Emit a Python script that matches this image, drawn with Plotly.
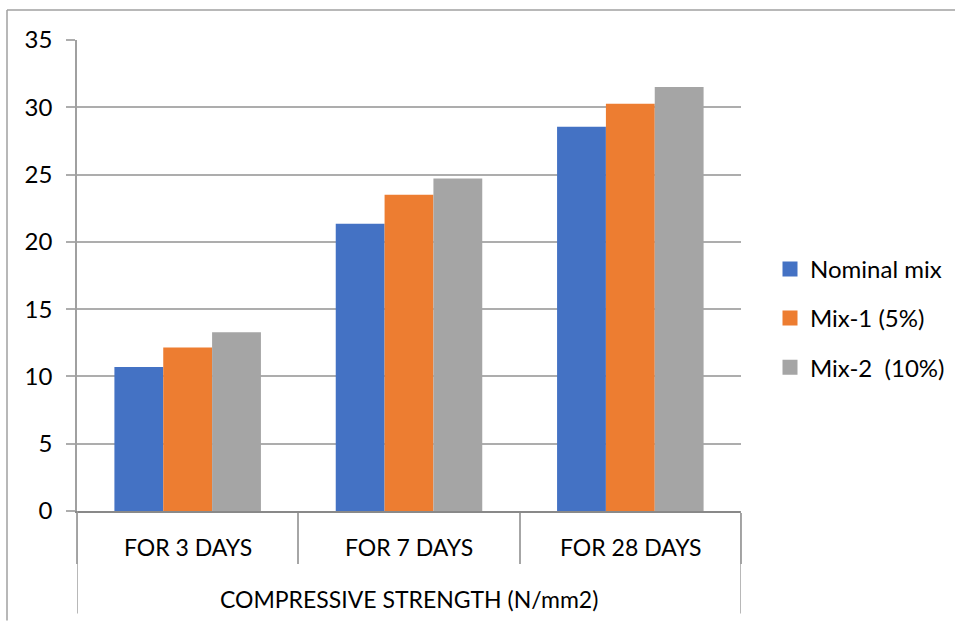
import plotly.graph_objects as go

categories = ["FOR 3 DAYS", "FOR 7 DAYS", "FOR 28 DAYS"]
group_title = "COMPRESSIVE STRENGTH (N/mm2)"
series_names = ["Nominal mix", "Mix-1 (5%)", "Mix-2  (10%)"]
nominal_mix = [10.7, 21.35, 28.55]
mix1_5pct = [12.15, 23.5, 30.27]
mix2_10pct = [13.28, 24.7, 31.5]
series_values = [nominal_mix, mix1_5pct, mix2_10pct]
colors = ["#4472C4", "#ED7D31", "#A5A5A5"]
y_ticks = [0, 5, 10, 15, 20, 25, 30, 35]

FONT = "Lato"
W, H = 955, 621
L, R, T, B = 77, 741, 40, 511.5
pw, ph = R - L, B - T

def px_x(p):
    return (p - L) / pw

def px_y(p):
    return (B - p) / ph

fig = go.Figure()
for name, vals, col in zip(series_names, series_values, colors):
    fig.add_trace(go.Bar(x=categories, y=vals, name=name, marker_color=col,
                         marker_line_width=0, showlegend=False))
for i, (name, col) in enumerate(zip(series_names, colors)):
    fig.add_trace(go.Scatter(x=[categories[0]], y=[None], mode="markers", name=name,
                             marker=dict(symbol="square", size=15, color=col),
                             legendgroup=f"g{i}", showlegend=True))

grid = "#ADADAD"
fig.update_layout(
    width=W, height=H,
    margin=dict(l=L, r=W - R, t=T, b=H - B, pad=0, autoexpand=False),
    paper_bgcolor="white", plot_bgcolor="white",
    barmode="group", bargap=0.338, bargroupgap=0,
    font=dict(family=FONT, size=24, color="#000000"),
    legend=dict(x=px_x(770), y=px_y(247), xanchor="left", yanchor="top",
                font=dict(family=FONT, size=24, color="#000000"),
                tracegroupgap=15, itemsizing="trace", bgcolor="rgba(0,0,0,0)"),
    xaxis=dict(type="category", range=[-0.5, 2.5], showticklabels=False,
               tickson="boundaries", ticks="outside", ticklen=51, tickwidth=1.5,
               tickcolor="#A6A6A6", showline=True, linecolor="#898989", linewidth=2,
               showgrid=False, zeroline=False),
    yaxis=dict(range=[0, 35], tickvals=y_ticks, ticks="outside", ticklen=9,
               tickwidth=1.5, tickcolor=grid, showgrid=True, gridcolor=grid,
               gridwidth=1.5, showline=True, linecolor="#A0A0A0", linewidth=1.5,
               zeroline=False, ticklabelstandoff=9,
               tickfont=dict(family=FONT, size=24, color="#000000")),
)

annotations = []
for c in categories:
    annotations.append(dict(x=c, y=0, xref="x", yref="y", text=c, showarrow=False,
                            yshift=-35.5, yanchor="middle",
                            font=dict(family=FONT, size=23, color="#000000")))
annotations.append(dict(x=0.5, y=0, xref="paper", yref="y", text=group_title,
                        showarrow=False, yshift=-88, yanchor="middle",
                        font=dict(family=FONT, size=23, color="#000000")))
fig.update_layout(annotations=annotations)

shapes = [
    dict(type="line", xref="x", yref="paper", x0=-0.5, x1=-0.5, y0=0, y1=px_y(614),
         line=dict(color="#A0A0A0", width=1.5)),
    dict(type="line", xref="x", yref="paper", x0=2.5, x1=2.5, y0=0, y1=px_y(614),
         line=dict(color="#A0A0A0", width=1.5)),
    dict(type="line", xref="paper", yref="paper", x0=px_x(7), x1=px_x(955),
         y0=px_y(10), y1=px_y(10), line=dict(color="#A0A0A0", width=1.5)),
    dict(type="line", xref="paper", yref="paper", x0=px_x(7), x1=px_x(7),
         y0=px_y(10), y1=px_y(621), line=dict(color="#A0A0A0", width=1.5)),
]
fig.update_layout(shapes=shapes)

fig.write_html("out.html", config={"displayModeBar": False},
               post_script="document.body.style.margin='0';document.body.style.overflow='hidden';")
